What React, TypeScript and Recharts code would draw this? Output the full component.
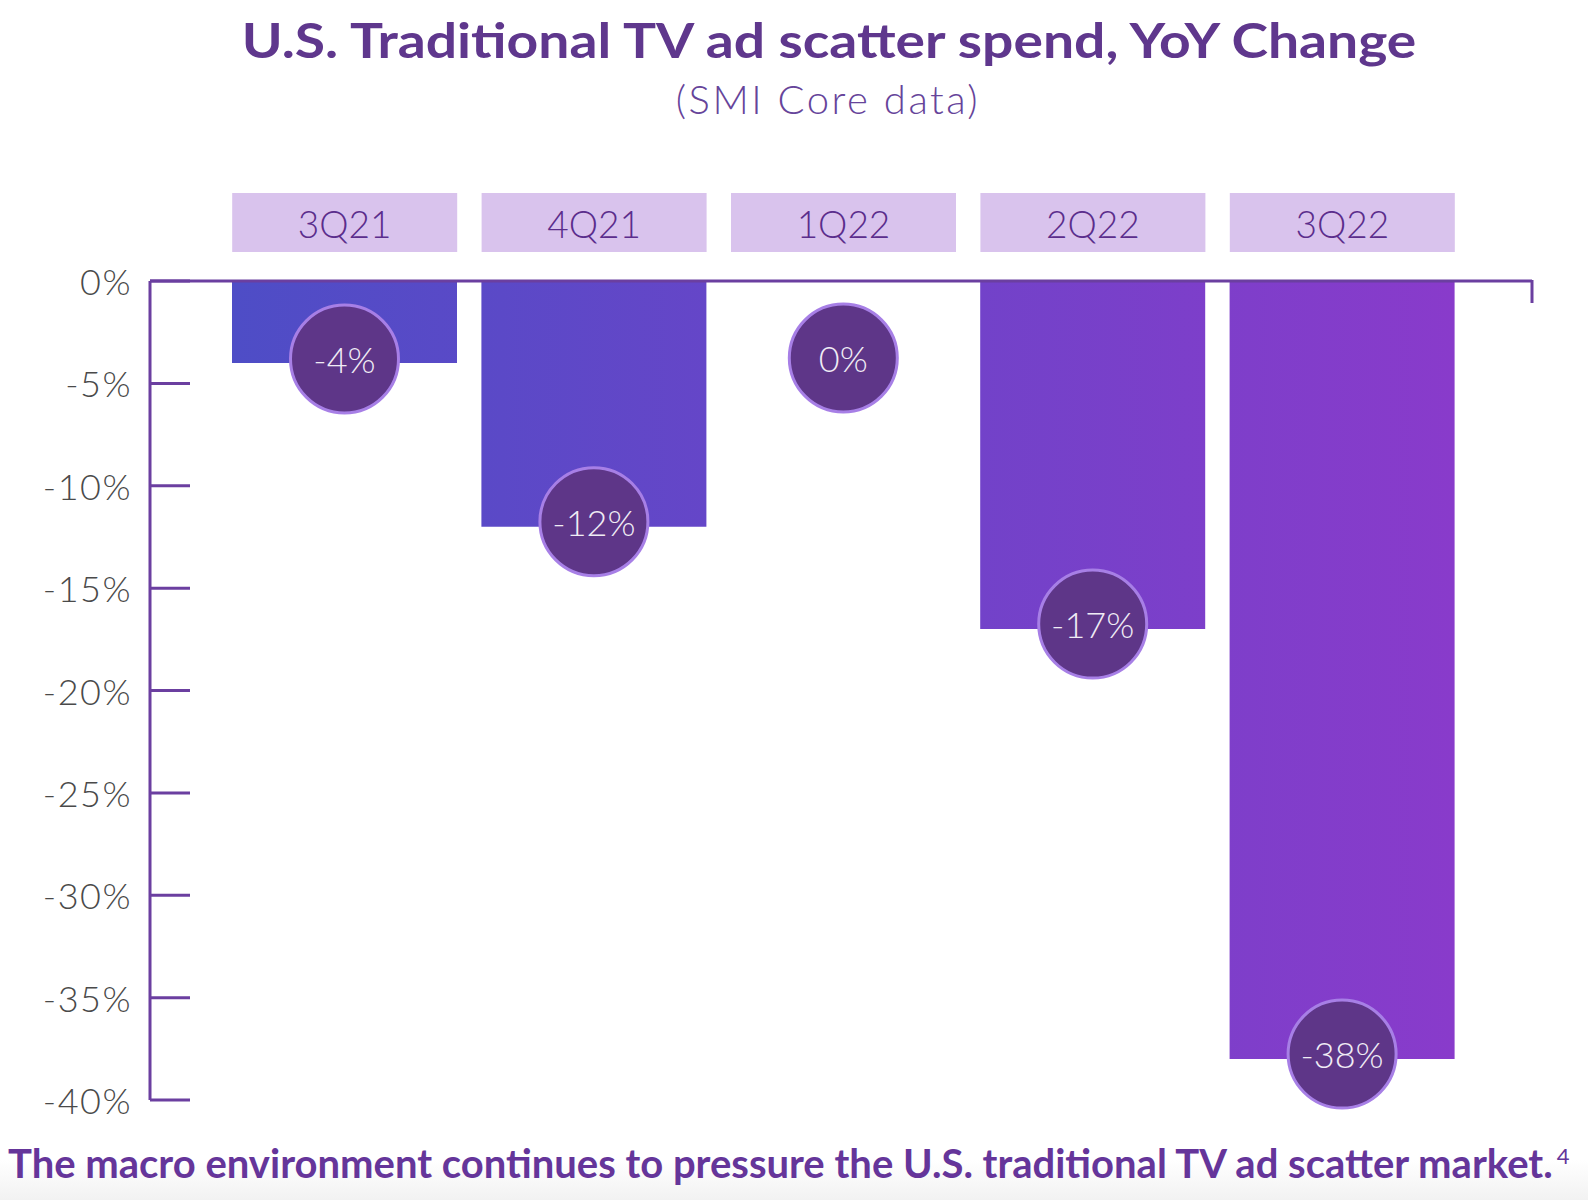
import { Bar, BarChart, LabelList, XAxis, YAxis } from "recharts"

const quarters = ["3Q21", "4Q21", "1Q22", "2Q22", "3Q22"]
const yoyChange = [-4, -12, 0, -17, -38]
const yTicks = [0, -5, -10, -15, -20, -25, -30, -35, -40]

const data = quarters.map((quarter, i) => ({ quarter, value: yoyChange[i] }))

const purple = "#6b3fa0"
const font = "Lato, 'Open Sans', sans-serif"

function QuarterTick(props: any) {
  const { x, y, payload } = props
  return (
    <g>
      <rect x={x - 112.5} y={y - 88} width={225} height={59} fill="#d9c3ed" />
      <text
        x={x}
        y={y - 58}
        textAnchor="middle"
        dominantBaseline="central"
        fill="#5b2d8c"
        fontFamily={font}
        fontWeight={300}
        fontSize={37}
      >
        {payload.value}
      </text>
    </g>
  )
}

function PercentTick(props: any) {
  const { x, y, payload } = props
  return (
    <g>
      <line x1={x} x2={x + 40} y1={y} y2={y} stroke={purple} strokeWidth={3} />
      <text
        x={x - 18}
        y={y}
        textAnchor="end"
        dominantBaseline="central"
        fill="#4a4a4a"
        fontFamily={font}
        fontWeight={300}
        fontSize={36}
        letterSpacing={1.5}
      >
        {`${payload.value}%`}
      </text>
    </g>
  )
}

function Bubble(props: any) {
  const vb = props.viewBox ?? props
  const { x, y, width, height } = vb
  const top = Math.min(y, y + height)
  const end = Math.max(y, y + height)
  const cy = Math.max(end - 5, top + 78)
  const cx = x + width / 2
  return (
    <g>
      <circle cx={cx} cy={cy} r={54} fill="#5e3688" stroke="#a77fe6" strokeWidth={3} />
      <text
        x={cx}
        y={cy}
        textAnchor="middle"
        dominantBaseline="central"
        fill="#f0ecf5"
        fontFamily={font}
        fontWeight={300}
        fontSize={36}
      >
        {`${props.value}%`}
      </text>
    </g>
  )
}

export default function App() {
  return (
    <div style={{ position: "relative", width: 1588, height: 1200, background: "#fff", overflow: "hidden" }}>
      <style>{`body{margin:0}`}</style>
      <div
        style={{
          position: "absolute",
          left: 829,
          top: 12,
          transform: "translateX(-50%) scaleX(1.15)",
          whiteSpace: "nowrap",
          fontFamily: font,
          fontWeight: 700,
          fontSize: 48,
          color: "#5f378d",
          lineHeight: "56px",
        }}
      >
        U.S. Traditional TV ad scatter spend, YoY Change
      </div>
      <div
        style={{
          position: "absolute",
          left: 828,
          top: 77,
          transform: "translateX(-50%)",
          whiteSpace: "nowrap",
          fontFamily: font,
          fontWeight: 300,
          fontSize: 40,
          letterSpacing: 2.5,
          color: "#66449a",
          lineHeight: "44px",
        }}
      >
        (SMI Core data)
      </div>
      <div
        style={{
          position: "absolute",
          left: 0,
          top: 1160,
          width: 1588,
          height: 40,
          background: "linear-gradient(#ffffff, #f2f2f2)",
        }}
      />
      <div style={{ position: "absolute", left: 0, top: 0 }}>
        <BarChart width={1588} height={1200} data={data} margin={{ top: 0, right: 56, bottom: 100, left: 0 }}>
          <defs>
            <linearGradient id="barGrad" gradientUnits="userSpaceOnUse" x1={232} y1={0} x2={1455} y2={0}>
              <stop offset="0%" stopColor="#4e4dc6" />
              <stop offset="100%" stopColor="#893bcb" />
            </linearGradient>
          </defs>
          <XAxis
            dataKey="quarter"
            orientation="top"
            height={281}
            interval={0}
            padding={{ left: 70, right: 65 }}
            axisLine={{ stroke: purple, strokeWidth: 3 }}
            tickLine={false}
            tickSize={0}
            tickMargin={0}
            tick={<QuarterTick />}
          />
          <YAxis
            type="number"
            domain={[-40, 0]}
            ticks={yTicks}
            interval={0}
            width={150}
            axisLine={{ stroke: purple, strokeWidth: 3 }}
            tickLine={false}
            tickSize={0}
            tickMargin={0}
            tick={<PercentTick />}
          />
          <Bar dataKey="value" fill="url(#barGrad)" barSize={225} minPointSize={1} isAnimationActive={false}>
            <LabelList dataKey="value" content={<Bubble />} />
          </Bar>
        </BarChart>
      </div>
      <svg style={{ position: "absolute", left: 0, top: 0 }} width={1588} height={400}>
        <line x1={1532} x2={1532} y1={280} y2={303} stroke={purple} strokeWidth={3} />
      </svg>
      <div
        style={{
          position: "absolute",
          left: 8,
          top: 1132,
          whiteSpace: "nowrap",
          fontFamily: font,
          fontWeight: 700,
          fontSize: 40,
          color: "#65359a",
          lineHeight: "48px",
        }}
      >
        The macro environment continues to pressure the U.S. traditional TV ad scatter market.
        <sup style={{ fontSize: 22, fontWeight: 400, marginLeft: 4 }}>4</sup>
      </div>
    </div>
  )
}
